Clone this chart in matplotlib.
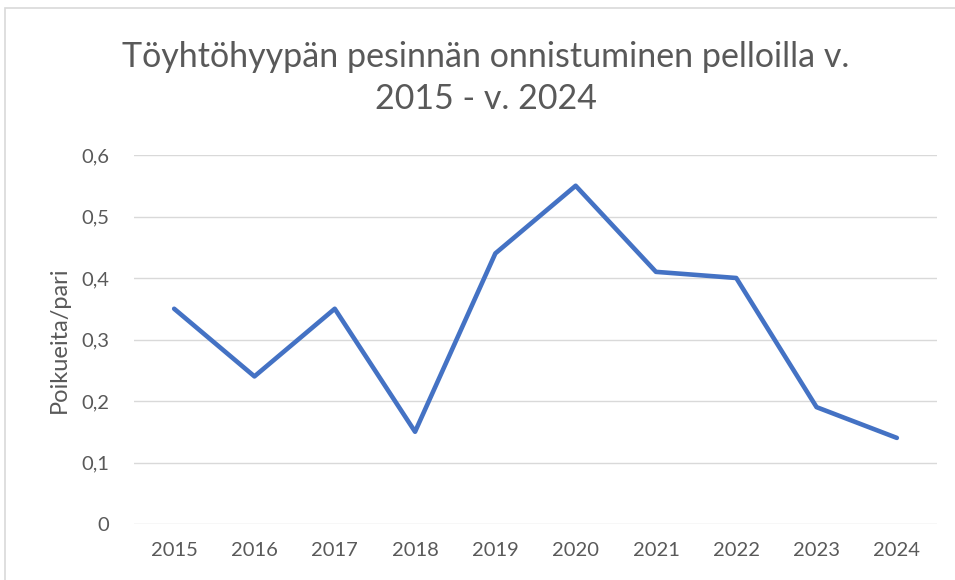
import matplotlib
matplotlib.use("Agg")
import matplotlib.pyplot as plt
from matplotlib.patches import Rectangle

years = ["2015", "2016", "2017", "2018", "2019", "2020", "2021", "2022", "2023", "2024"]
poikueita = [0.35, 0.24, 0.35, 0.15, 0.44, 0.55, 0.41, 0.40, 0.19, 0.14]
y_ticks = [0, 0.1, 0.2, 0.3, 0.4, 0.5, 0.6]
y_labels = ["0", "0,1", "0,2", "0,3", "0,4", "0,5", "0,6"]

plt.rcParams["font.family"] = ["Lato", "DejaVu Sans"]
grey = "#595959"

fig = plt.figure(figsize=(9.55, 5.8), dpi=100)
ax = fig.add_axes([134 / 955, 1 - 524 / 580, (937 - 134) / 955, (524 - 155) / 580])

x = list(range(len(years)))
ax.plot(x, poikueita, color="#4472C4", lw=3.3, solid_capstyle="round", solid_joinstyle="round", zorder=3)

ax.set_xlim(-0.5, len(years) - 0.5)
ax.set_ylim(0, 0.6)
ax.set_xticks(x)
ax.set_xticklabels(years)
ax.set_yticks(y_ticks)
ax.set_yticklabels(y_labels)
ax.tick_params(axis="both", length=0, labelsize=14.5, colors=grey)
ax.tick_params(axis="y", pad=18)
ax.tick_params(axis="x", pad=13)
ax.grid(axis="y", color="#d9d9d9", lw=1)
ax.set_axisbelow(True)
for s in ax.spines.values():
    s.set_visible(False)
ax.set_ylabel("Poikueita/pari", fontsize=17, color=grey, labelpad=8)

fig.text(486 / 955, 1 - 78 / 580, "Töyhtöhyypän pesinnän onnistuminen pelloilla v.\n2015 - v. 2024",
         ha="center", va="center", fontsize=24.5, color=grey, linespacing=1.35)

# kaavion reunus
fig.patches.append(Rectangle((5 / 955, -0.1), 1.2, 1 - 8 / 580 + 0.1, transform=fig.transFigure,
                             fill=False, edgecolor="#d9d9d9", lw=1.2))

fig.savefig("out.png", dpi=100)
